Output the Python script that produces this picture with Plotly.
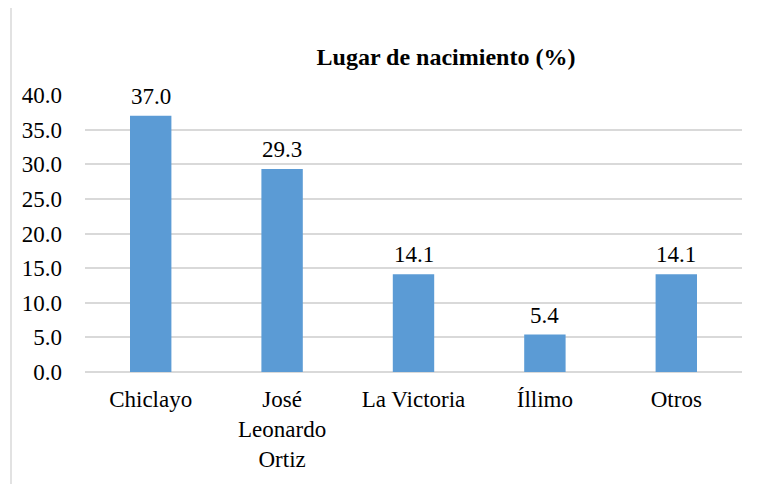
import plotly.graph_objects as go

categories = ["Chiclayo", "José<br>Leonardo<br>Ortiz", "La Victoria", "Íllimo", "Otros"]
values = [37.0, 29.3, 14.1, 5.4, 14.1]
y_ticks = [0, 5, 10, 15, 20, 25, 30, 35, 40]
title_text = "Lugar de nacimiento (%)"

FONT = "Liberation Serif, Times New Roman, serif"
# the page body adds an 8px offset, so the figure is drawn 8px smaller
OFF = 8

fig = go.Figure(
    go.Bar(
        x=categories,
        y=values,
        marker=dict(color="#5B9BD5", line=dict(width=0)),
        width=0.315,
        hoverinfo="x+y",
    )
)

annotations = [
    dict(
        x=c,
        y=v,
        xref="x",
        yref="y",
        text=f"{v:.1f}",
        showarrow=False,
        yanchor="bottom",
        yshift=5,
        font=dict(family=FONT, size=23, color="#000000"),
    )
    for c, v in zip(categories, values)
]

fig.update_layout(
    width=765 - OFF,
    height=484 - OFF,
    paper_bgcolor="white",
    plot_bgcolor="white",
    margin=dict(l=85 - OFF, r=23, t=95 - OFF, b=112, autoexpand=False),
    showlegend=False,
    font=dict(family=FONT, size=23, color="#000000"),
    title=dict(
        text="<b>" + title_text + "</b>",
        x=(446 - OFF) / (765 - OFF),
        xanchor="center",
        xref="container",
        y=1 - (57 - OFF) / (484 - OFF),
        yanchor="middle",
        yref="container",
        font=dict(family=FONT, size=24, color="#000000"),
    ),
    xaxis=dict(
        automargin=False,
        showgrid=False,
        showline=False,
        zeroline=False,
        ticks="",
        ticklabelstandoff=11,
        tickfont=dict(family=FONT, size=23, color="#000000"),
    ),
    yaxis=dict(
        automargin=False,
        range=[0, 40],
        tickvals=y_ticks,
        ticktext=[f"{t:.1f}" for t in y_ticks],
        showgrid=True,
        gridcolor="#d9d9d9",
        gridwidth=1.5,
        zeroline=True,
        zerolinecolor="#d9d9d9",
        zerolinewidth=1.5,
        showline=False,
        ticks="",
        ticklabelstandoff=22,
        tickfont=dict(family=FONT, size=23, color="#000000"),
    ),
    annotations=annotations,
    shapes=[
        dict(
            type="rect",
            xref="paper",
            yref="paper",
            x0=(11 - 85) / 657,
            x1=1.2,
            y0=-0.5,
            y1=(372 - 7) / 277,
            line=dict(color="#d9d9d9", width=1.5),
            fillcolor="rgba(0,0,0,0)",
            layer="below",
        )
    ],
)

fig.write_html("out.html")
